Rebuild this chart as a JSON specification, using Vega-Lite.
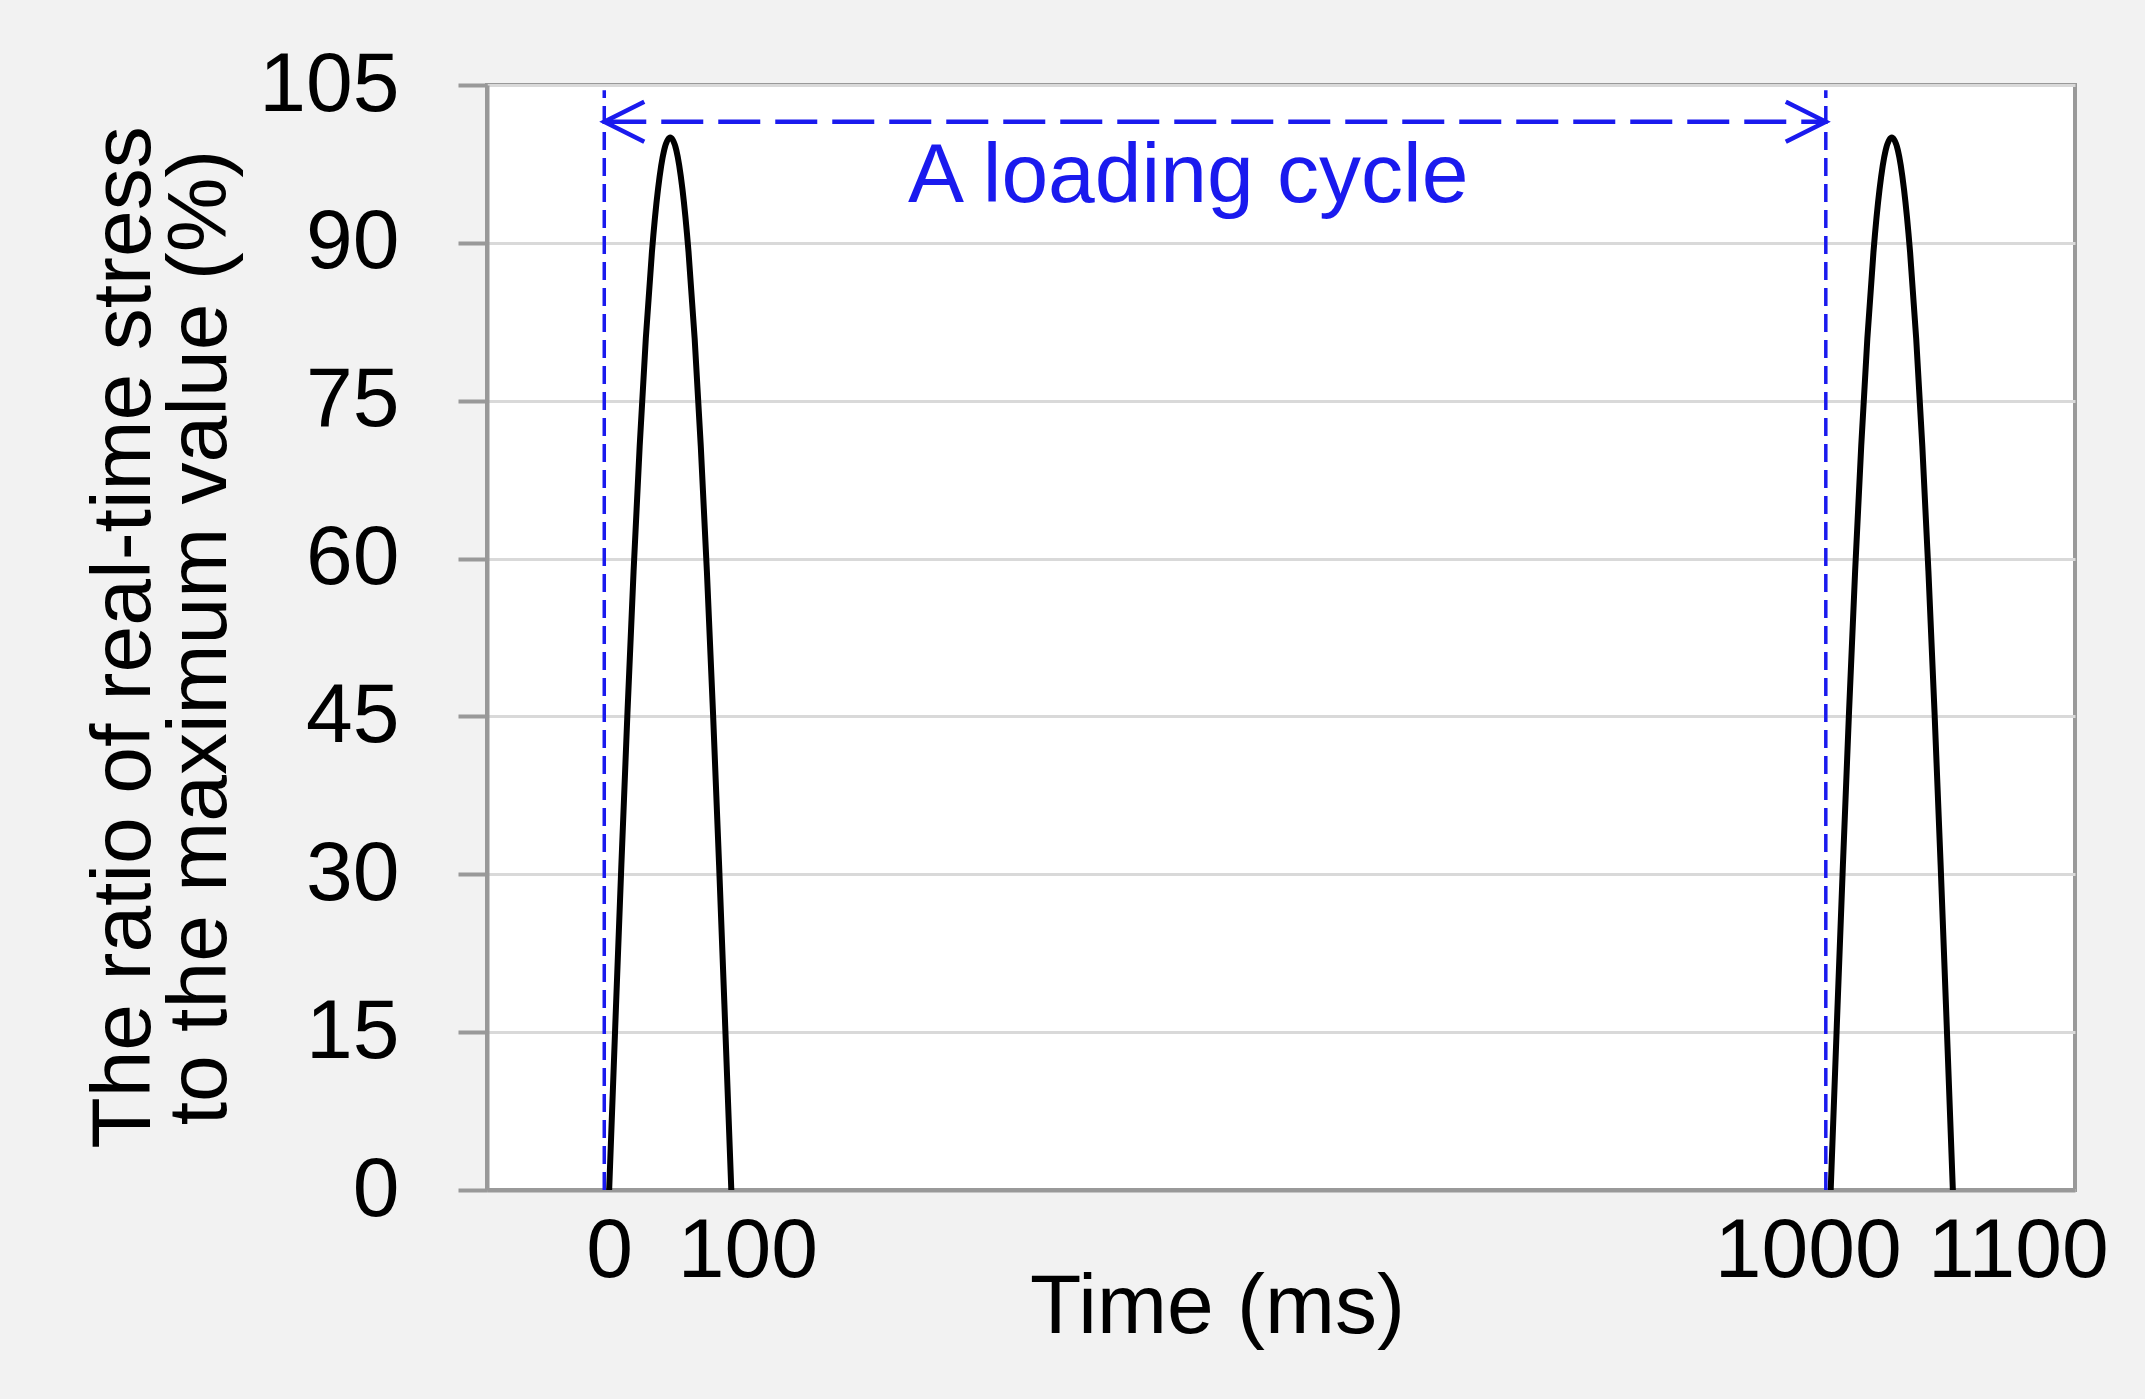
{
  "$schema": "https://vega.github.io/schema/vega-lite/v6.json",
  "width": 1588,
  "height": 1105,
  "autosize": {"type": "none"},
  "padding": {"left": 487, "top": 85, "right": 70, "bottom": 209},
  "background": "#f2f2f2",
  "config": {
    "font": "Liberation Sans",
    "view": {"fill": "white", "stroke": "#999999", "strokeWidth": 4}
  },
  "datasets": {
    "stress": [
      {"t": 0, "v": 0, "cycle": "1"},
      {"t": 5, "v": 15.6, "cycle": "1"},
      {"t": 10, "v": 30.9, "cycle": "1"},
      {"t": 15, "v": 45.4, "cycle": "1"},
      {"t": 20, "v": 58.8, "cycle": "1"},
      {"t": 25, "v": 70.7, "cycle": "1"},
      {"t": 30, "v": 80.9, "cycle": "1"},
      {"t": 35, "v": 89.1, "cycle": "1"},
      {"t": 40, "v": 95.1, "cycle": "1"},
      {"t": 45, "v": 98.8, "cycle": "1"},
      {"t": 50, "v": 100, "cycle": "1"},
      {"t": 55, "v": 98.8, "cycle": "1"},
      {"t": 60, "v": 95.1, "cycle": "1"},
      {"t": 65, "v": 89.1, "cycle": "1"},
      {"t": 70, "v": 80.9, "cycle": "1"},
      {"t": 75, "v": 70.7, "cycle": "1"},
      {"t": 80, "v": 58.8, "cycle": "1"},
      {"t": 85, "v": 45.4, "cycle": "1"},
      {"t": 90, "v": 30.9, "cycle": "1"},
      {"t": 95, "v": 15.6, "cycle": "1"},
      {"t": 100, "v": 0, "cycle": "1"},
      {"t": 1000, "v": 0, "cycle": "2"},
      {"t": 1005, "v": 15.6, "cycle": "2"},
      {"t": 1010, "v": 30.9, "cycle": "2"},
      {"t": 1015, "v": 45.4, "cycle": "2"},
      {"t": 1020, "v": 58.8, "cycle": "2"},
      {"t": 1025, "v": 70.7, "cycle": "2"},
      {"t": 1030, "v": 80.9, "cycle": "2"},
      {"t": 1035, "v": 89.1, "cycle": "2"},
      {"t": 1040, "v": 95.1, "cycle": "2"},
      {"t": 1045, "v": 98.8, "cycle": "2"},
      {"t": 1050, "v": 100, "cycle": "2"},
      {"t": 1055, "v": 98.8, "cycle": "2"},
      {"t": 1060, "v": 95.1, "cycle": "2"},
      {"t": 1065, "v": 89.1, "cycle": "2"},
      {"t": 1070, "v": 80.9, "cycle": "2"},
      {"t": 1075, "v": 70.7, "cycle": "2"},
      {"t": 1080, "v": 58.8, "cycle": "2"},
      {"t": 1085, "v": 45.4, "cycle": "2"},
      {"t": 1090, "v": 30.9, "cycle": "2"},
      {"t": 1095, "v": 15.6, "cycle": "2"},
      {"t": 1100, "v": 0, "cycle": "2"}
    ],
    "bounds": [
      {"t": -4, "v": 0, "v2": 104.5},
      {"t": 996, "v": 0, "v2": 104.5}
    ],
    "span": [
      {"t": -4, "t2": 996, "v": 101.5}
    ],
    "leftEnd": [{"t": -4, "v": 101.5}],
    "rightEnd": [{"t": 996, "v": 101.5}],
    "note": [{"t": 474, "v": 93.9, "label": "A loading cycle"}]
  },
  "layer": [
    {
      "data": {"name": "stress"},
      "mark": {"type": "line", "color": "black", "strokeWidth": 6, "interpolate": "monotone"},
      "encoding": {
        "x": {
          "field": "t",
          "type": "quantitative",
          "title": "Time (ms)",
          "scale": {"domain": [-100, 1200], "nice": false, "zero": false},
          "axis": {
            "values": [0, 100, 1000, 1100],
            "format": "d",
            "grid": false,
            "ticks": false,
            "tickSize": 0,
            "domainColor": "#999999",
            "domainWidth": 4,
            "labelFontSize": 84,
            "labelColor": "black",
            "labelBaseline": "alphabetic",
            "labelPadding": 86,
            "labelLimit": 0,
            "labelOverlap": false,
            "labelBound": false,
            "labelFlush": false,
            "labelOffset": {
              "condition": [
                {"test": "datum.value == 100", "value": 16},
                {"test": "datum.value == 1000", "value": -23},
                {"test": "datum.value == 1100", "value": 65}
              ],
              "value": 0
            },
            "titleFontSize": 84,
            "titleFontWeight": "normal",
            "titleColor": "black",
            "titleX": 730,
            "titleY": 142,
            "titleAlign": "center",
            "titleBaseline": "alphabetic"
          }
        },
        "y": {
          "field": "v",
          "type": "quantitative",
          "title": ["The ratio of real-time stress", "to the maximum value (%)"],
          "scale": {"domain": [0, 105], "nice": false, "zero": false},
          "axis": {
            "values": [0, 15, 30, 45, 60, 75, 90, 105],
            "format": "d",
            "grid": true,
            "gridColor": "#d9d9d9",
            "gridWidth": 3,
            "tickColor": "#999999",
            "tickWidth": 4,
            "tickSize": 29,
            "domainColor": "#999999",
            "domainWidth": 4,
            "labelFontSize": 84,
            "labelColor": "black",
            "labelPadding": 59,
            "labelLimit": 0,
            "labelBaseline": "middle",
            "labelOverlap": false,
            "labelBound": false,
            "labelFlush": false,
            "titleFontSize": 84,
            "titleFontWeight": "normal",
            "titleColor": "black",
            "titleAngle": 270,
            "titleX": -338,
            "titleY": 552,
            "titleAlign": "center",
            "titleBaseline": "alphabetic",
            "titleLineHeight": 76,
            "titleLimit": 0
          }
        },
        "detail": {"field": "cycle", "type": "nominal"}
      }
    },
    {
      "data": {"name": "bounds"},
      "mark": {"type": "rule", "color": "#1a1aee", "strokeWidth": 3.5, "strokeDash": [18, 8]},
      "encoding": {
        "x": {"field": "t", "type": "quantitative", "title": "Time (ms)"},
        "y": {"field": "v", "type": "quantitative", "title": ["The ratio of real-time stress", "to the maximum value (%)"]},
        "y2": {"field": "v2"}
      }
    },
    {
      "data": {"name": "span"},
      "mark": {"type": "rule", "color": "#1a1aee", "strokeWidth": 4.5, "strokeDash": [42, 15]},
      "encoding": {
        "x": {"field": "t", "type": "quantitative", "title": "Time (ms)"},
        "x2": {"field": "t2"},
        "y": {"field": "v", "type": "quantitative", "title": ["The ratio of real-time stress", "to the maximum value (%)"]}
      }
    },
    {
      "data": {"name": "leftEnd"},
      "mark": {"type": "point", "shape": "M2,-1L0,0L2,1", "size": 1600, "filled": false, "fill": null, "stroke": "#1a1aee", "strokeWidth": 4.5, "opacity": 1},
      "encoding": {
        "x": {"field": "t", "type": "quantitative", "title": "Time (ms)"},
        "y": {"field": "v", "type": "quantitative", "title": ["The ratio of real-time stress", "to the maximum value (%)"]}
      }
    },
    {
      "data": {"name": "rightEnd"},
      "mark": {"type": "point", "shape": "M-2,-1L0,0L-2,1", "size": 1600, "filled": false, "fill": null, "stroke": "#1a1aee", "strokeWidth": 4.5, "opacity": 1},
      "encoding": {
        "x": {"field": "t", "type": "quantitative", "title": "Time (ms)"},
        "y": {"field": "v", "type": "quantitative", "title": ["The ratio of real-time stress", "to the maximum value (%)"]}
      }
    },
    {
      "data": {"name": "note"},
      "mark": {"type": "text", "color": "#1a1aee", "fontSize": 84, "align": "center", "baseline": "alphabetic"},
      "encoding": {
        "x": {"field": "t", "type": "quantitative", "title": "Time (ms)"},
        "y": {"field": "v", "type": "quantitative", "title": ["The ratio of real-time stress", "to the maximum value (%)"]},
        "text": {"field": "label"}
      }
    }
  ]
}
